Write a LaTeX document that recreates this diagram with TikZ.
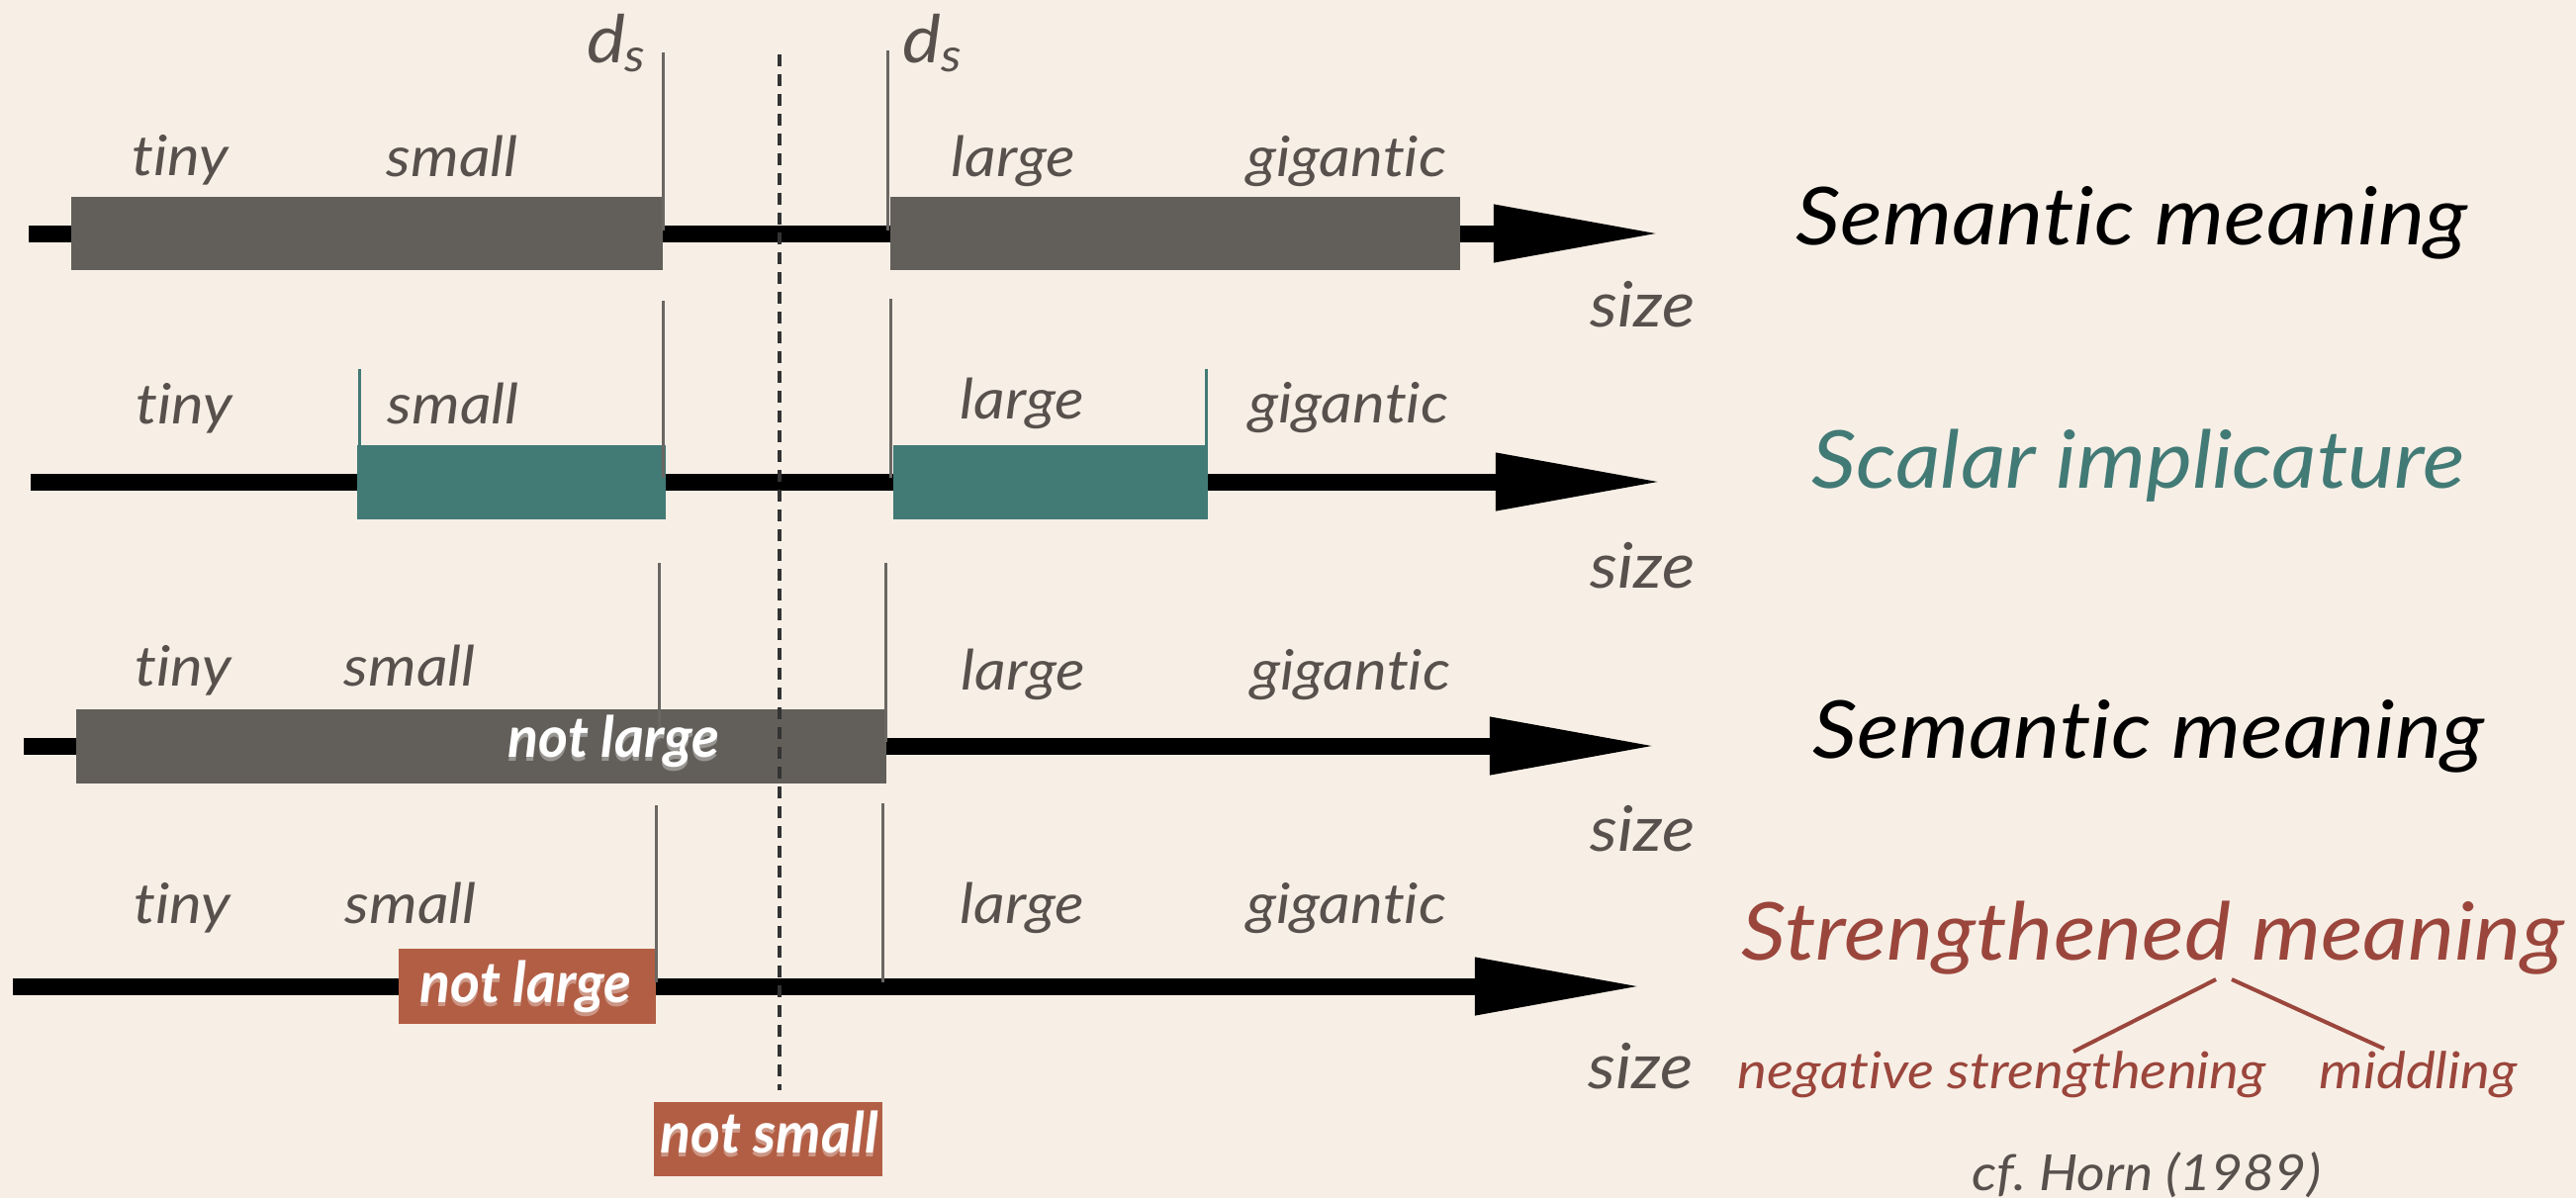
\documentclass[tikz,border=0pt]{standalone}
\usepackage{fontspec}
\setmainfont{Lato}[FakeStretch=1.1, Ligatures=NoCommon]
\newfontfamily\boxfont{Lato}[Ligatures=NoCommon]
\usetikzlibrary{arrows.meta,fit}
\definecolor{bg}{HTML}{F7EFE6}
\definecolor{boxgray}{HTML}{625F5A}
\definecolor{tickgray}{HTML}{6A6662}
\definecolor{txtgray}{HTML}{58504C}
\definecolor{myteal}{HTML}{427A76}
\definecolor{orangebox}{HTML}{B25E44}
\definecolor{redtxt}{HTML}{9B463C}
\frenchspacing
\begin{document}
\begin{tikzpicture}[x=0.01cm,y=-0.01cm,
  axisline/.style={line width=0.17cm, draw=black, -{Triangle[length=1.7cm,width=0.54cm]}},
  tick/.style={draw=tickgray, line width=0.03cm},
  tealtick/.style={draw=myteal, line width=0.03cm},
  dashline/.style={draw=black!80, line width=0.04cm, dash pattern=on 0.12cm off 0.08cm},
  gbox/.style={fill=boxgray, inner sep=0pt, outer sep=0pt},
  tbox/.style={fill=myteal, inner sep=0pt, outer sep=0pt},
  obox/.style={fill=orangebox, inner sep=0pt, outer sep=0pt},
  lab/.style={font=\fontsize{16}{19}\selectfont\itshape, text=txtgray, inner sep=0pt, anchor=base west},
  sizelab/.style={font=\fontsize{18}{21}\selectfont\itshape, text=txtgray, inner sep=0pt, anchor=base west},
  title/.style={font=\fontsize{23}{27}\selectfont\itshape, inner sep=0pt, anchor=base west},
  dslab/.style={font=\fontsize{19}{22}\selectfont\itshape, text=txtgray, inner sep=0pt},
  boxtxt/.style={font=\boxfont\fontsize{16.3}{19}\selectfont\bfseries\itshape, text=white, inner sep=0pt, anchor=base west},
  glow/.style={font=\boxfont\fontsize{16.3}{19}\selectfont\bfseries\itshape, text=white, text opacity=0.35, inner sep=0pt, anchor=base west},
  redlab/.style={font=\fontsize{14.6}{18}\selectfont\itshape, text=redtxt, inner sep=0pt, anchor=base west},
  treeline/.style={draw=redtxt, line width=0.04cm}
]
\fill[bg] (0,0) rectangle (2604,1211);
\useasboundingbox (0,0) rectangle (2604,1211);

% ---------- axes ----------
\coordinate (a1s) at (29,236);  \coordinate (a1e) at (1680,236);
\coordinate (a2s) at (31,487);  \coordinate (a2e) at (1682,487);
\coordinate (a3s) at (24,754);  \coordinate (a3e) at (1676,754);
\coordinate (a4s) at (13,997);  \coordinate (a4e) at (1661,997);
\draw[axisline] (a1s) -- (a1e);
\draw[axisline] (a2s) -- (a2e);
\draw[axisline] (a3s) -- (a3e);
\draw[axisline] (a4s) -- (a4e);

% ---------- boxes ----------
\node[gbox, fit={(72,199)(670,273)}] (b1l) {};
\node[gbox, fit={(900,199)(1476,273)}] (b1r) {};
\node[tbox, fit={(361,450)(673,525)}] (b2l) {};
\node[tbox, fit={(903,450)(1219,525)}] (b2r) {};
\node[gbox, fit={(77,717)(896,792)}] (b3) {};
\node[obox, fit={(403,959)(663,1035)}] (b4) {};
\node[obox, fit={(661,1114)(892,1189)}] (b5) {};

% ---------- ticks ----------
\coordinate (t1a) at (670,53);  \coordinate (t1b) at (670,233);
\coordinate (t1c) at (897,51);  \coordinate (t1d) at (897,233);
\draw[tick] (t1a) -- (t1b);
\draw[tick] (t1c) -- (t1d);
\coordinate (t2a) at (670,304); \coordinate (t2b) at (670,483);
\coordinate (t2c) at (900,302); \coordinate (t2d) at (900,483);
\draw[tick] (t2a) -- (t2b);
\draw[tick] (t2c) -- (t2d);
\coordinate (t2e) at (363,373); \coordinate (t2f) at (363,525);
\coordinate (t2g) at (1219,373); \coordinate (t2h) at (1219,525);
\draw[tealtick] (t2e) -- (t2f);
\draw[tealtick] (t2g) -- (t2h);
\coordinate (t3a) at (666,569); \coordinate (t3b) at (666,750);
\coordinate (t3c) at (895,569); \coordinate (t3d) at (895,750);
\draw[tick] (t3a) -- (t3b);
\draw[tick] (t3c) -- (t3d);
\coordinate (t4a) at (663,814); \coordinate (t4b) at (663,993);
\coordinate (t4c) at (892,812); \coordinate (t4d) at (892,993);
\draw[tick] (t4a) -- (t4b);
\draw[tick] (t4c) -- (t4d);

% ---------- dashed threshold ----------
\coordinate (dsh1) at (788,55); \coordinate (dsh2) at (788,1102);
\draw[dashline] (dsh1) -- (dsh2);

% ---------- d_s labels ----------
\node[dslab, anchor=base east] (ds1) at (655,63) {d\textsubscript{s}};
\node[dslab, anchor=base west] (ds2) at (912,63) {d\textsubscript{s}};

% ---------- row 1 ----------
\node[lab] (r1tiny) at (133,177) {tiny};
\node[lab] (r1small) at (390,178) {small};
\node[lab] (r1large) at (961,178) {large};
\node[lab] (r1gig) at (1260,178) {gigantic};
\node[sizelab] (r1size) at (1607,330) {size};
\node[title, text=black] (r1title) at (1815,247) {Semantic meaning};

% ---------- row 2 ----------
\node[lab] (r2tiny) at (137,428) {tiny};
\node[lab] (r2small) at (391,428) {small};
\node[lab] (r2large) at (970,423) {large};
\node[lab] (r2gig) at (1262,427) {gigantic};
\node[sizelab] (r2size) at (1607,594) {size};
\node[title, text=myteal] (r2title) at (1831,493) {Scalar implicature};

% ---------- row 3 ----------
\node[lab] (r3tiny) at (136,693) {tiny};
\node[lab] (r3small) at (347,693) {small};
\node[lab] (r3large) at (971,697) {large};
\node[lab] (r3gig) at (1264,697) {gigantic};
\node[glow] (r3glow) at (513,769) {not large};
\node[boxtxt] (r3not) at (513,765) {not large};
\node[sizelab] (r3size) at (1607,860) {size};
\node[title, text=black] (r3title) at (1832,766) {Semantic meaning};

% ---------- row 4 ----------
\node[lab] (r4tiny) at (135,933) {tiny};
\node[lab] (r4small) at (348,933) {small};
\node[lab] (r4large) at (970,933) {large};
\node[lab] (r4gig) at (1260,933) {gigantic};
\node[glow] (r4glow) at (424,1017) {not large};
\node[boxtxt] (r4not) at (424,1013) {not large};
\node[glow] (r4glows) at (667,1169) {not small};
\node[boxtxt] (r4notsmall) at (667,1165) {not small};
\node[sizelab] (r4size) at (1605,1100) {size};
\node[title, text=redtxt] (r4title) at (1760,970) {Strengthened meaning};
\node[redlab] (neg) at (1756,1100) {negative strengthening};
\node[redlab] (mid) at (2344,1100) {middling};
\coordinate (apexl) at (2240,990); \coordinate (apexr) at (2256,990);
\coordinate (negtop) at (2096,1063); \coordinate (midtop) at (2410,1060);
\draw[treeline] (apexl) -- (negtop);
\draw[treeline] (apexr) -- (midtop);
\node[font=\fontsize{14.3}{17}\selectfont\itshape, text=txtgray, inner sep=0pt, anchor=base west] (horn) at (1993,1203) {cf. Horn (1989)};
\end{tikzpicture}
\end{document}
